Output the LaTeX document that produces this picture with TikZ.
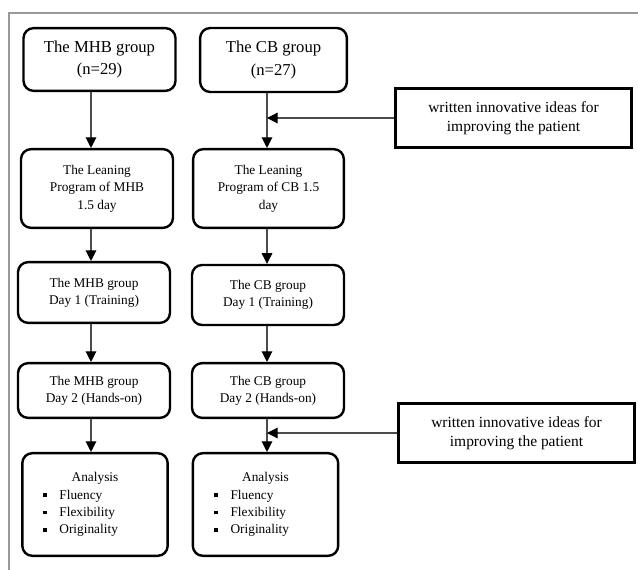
\documentclass[tikz,border=0pt]{standalone}
\usepackage{fontspec}
\setmainfont{Liberation Serif}
\usetikzlibrary{arrows.meta}
\newcommand{\itm}{\rule[1.5pt]{2.8pt}{2.8pt}\hspace{9.5pt}}
\begin{document}
\begin{tikzpicture}
		[x=0.75pt,y=-0.75pt,
		box/.style={rectangle,draw=black,line width=1.8pt,rounded corners=7.5pt,inner sep=0pt,align=center,font=\fontsize{10}{13}\selectfont},
		head/.style={box,font=\fontsize{12.5}{17}\selectfont},
		result/.style={box,text width=109pt,minimum height=77pt},
		note/.style={rectangle,draw=black,line width=1.8pt,inner sep=0pt,align=center,minimum width=177pt,minimum height=44pt,font=\fontsize{11.6}{14.5}\selectfont},
		link/.style={draw=black!70,line width=0.9pt,-{Triangle[length=8pt,width=8pt,color=black]}}
		]
		\useasboundingbox (0,0) rectangle (638,570);
		\draw[black!40,line width=1.6pt] (9,570) -- (9,13) -- (638,13);

		\coordinate (colM) at (91,0);
		\coordinate (colC) at (267,0);

		\node[head,minimum width=114pt,minimum height=47pt] (m1) at (99.5,59.5){The MHB group\\(n=29)};
		\node[head,minimum width=110pt,minimum height=48pt] (c1) at (273.5,60){The CB group\\(n=27)};

		\node[box,minimum width=114pt,minimum height=59pt] (m2) at (97,188.5){The Leaning\\Program of MHB\\1.5 day};
		\node[box,minimum width=113pt,minimum height=59pt] (c2) at (268.5,188.5){The Leaning\\Program of CB 1.5\\day};

		\node[box,minimum width=114pt,minimum height=45.5pt] (m3) at (94,292.5){The MHB group\\Day 1 (Training)};
		\node[box,minimum width=114pt,minimum height=45pt] (c3) at (268,295){The CB group\\Day 1 (Training)};

		\node[box,minimum width=114pt,minimum height=41pt] (m4) at (94,390.5){The MHB group\\Day 2 (Hands-on)};
		\node[box,minimum width=114pt,minimum height=41pt] (c4) at (268,390.5){The CB group\\Day 2 (Hands-on)};

		\node[result] (m5) at (95,504.5){\centering Analysis\par\raggedright\leftskip=15.5pt
			\itm Fluency\\\itm Flexibility\\\itm Originality\par};
		\node[result] (c5) at (265.5,504.5){\centering Analysis\par\raggedright\leftskip=16pt
			\itm Fluency\\\itm Flexibility\\\itm Originality\par};

		\node[note] (n1) at (513.5,118){written innovative ideas for\\improving the patient};
		\node[note] (n2) at (516.5,433){written innovative ideas for\\improving the patient};

		% MHB column
		\draw[link] (m1.south -| colM) -- (m2.north -| colM);
		\draw[link] (m2.south -| colM) -- (m3.north -| colM);
		\draw[link] (m3.south -| colM) -- (m4.north -| colM);
		\draw[link] (m4.south -| colM) -- (m5.north -| colM);
		% CB column
		\draw[link] (c1.south -| colC) -- (c2.north -| colC);
		\draw[link] (c2.south -| colC) -- (c3.north -| colC);
		\draw[link] (c3.south -| colC) -- (c4.north -| colC);
		\draw[link] (c4.south -| colC) -- (c5.north -| colC);
		% notes
		\draw[link] (n1.west) -- (n1.west -| colC);
		\draw[link] (n2.west) -- (n2.west -| colC);
	\end{tikzpicture}
\end{document}
